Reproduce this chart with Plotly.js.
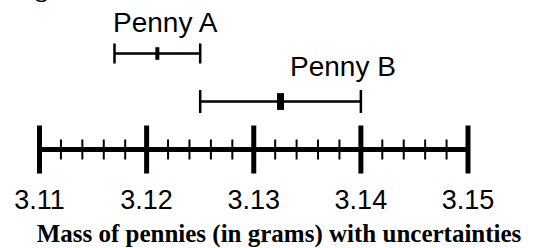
<!DOCTYPE html>
<html><head><meta charset="utf-8">
<script src="https://cdn.plot.ly/plotly-3.0.1.min.js"></script>
<style>html,body{margin:0;padding:0;background:#fff;overflow:hidden}#chart{width:558px;height:248px}</style>
</head><body><div id="chart"></div>
<script>
// ---- data ----
const pennyNames = ["Penny A", "Penny B"];
const pennyMass = [3.121, 3.1325];
const pennyUncertainty = [0.004, 0.0075];
const pennyRow = [2, 1];
const majorTicks = [3.11, 3.12, 3.13, 3.14, 3.15];
const majorTickLabels = ["3.11", "3.12", "3.13", "3.14", "3.15"];
const minorTicks = [3.112, 3.114, 3.116, 3.118, 3.122, 3.124, 3.126, 3.128,
                    3.132, 3.134, 3.136, 3.138, 3.142, 3.144, 3.146, 3.148];
const xTitle = "Mass of pennies (in grams) with uncertainties";
const figureLabel = "Figure 1";

// ---- styles ----
const pennyStyle = [
  {capHalf: 10, dotSize: 9, dotWidth: 4, labelDx: 8, labelDy: 31},
  {capHalf: 11.5, dotSize: 12, dotWidth: 7, labelDx: 62, labelDy: 35}
];
const sans = "Liberation Sans, Arial, sans-serif";
const serif = "Liberation Serif, Times New Roman, serif";

const traces = [];
// number line
traces.push({
  x: [majorTicks[0], majorTicks[majorTicks.length - 1]], y: [0, 0],
  mode: "lines", line: {color: "#000", width: 5}, hoverinfo: "skip", showlegend: false
});
// minor ticks
traces.push({
  x: minorTicks, y: minorTicks.map(() => 0), mode: "markers",
  marker: {size: 1, color: "rgba(0,0,0,0)"},
  error_y: {type: "constant", value: 10 / 48, width: 0, thickness: 2, color: "#000"},
  hoverinfo: "skip", showlegend: false
});
// major ticks
traces.push({
  x: majorTicks, y: majorTicks.map(() => 0), mode: "markers",
  marker: {size: 1, color: "rgba(0,0,0,0)"},
  error_y: {type: "constant", value: 24 / 48, width: 0, thickness: 5, color: "#000"},
  hoverinfo: "skip", showlegend: false
});
// pennies
const annotations = [];
pennyNames.forEach((name, i) => {
  const st = pennyStyle[i];
  traces.push({
    x: [pennyMass[i]], y: [pennyRow[i]], mode: "markers", name: name,
    marker: {symbol: "line-ns", size: st.dotSize, color: "#000", line: {color: "#000", width: st.dotWidth}},
    error_x: {type: "data", array: [pennyUncertainty[i]], symmetric: true, width: st.capHalf, thickness: 2.5, color: "#000"},
    showlegend: false
  });
  annotations.push({
    x: pennyMass[i], y: pennyRow[i], xref: "x", yref: "y", text: name, showarrow: false,
    xanchor: "center", yanchor: "middle", xshift: st.labelDx, yshift: st.labelDy,
    font: {family: sans, size: 28, color: "#000"}
  });
});
annotations.push({
  x: 0.02, y: 1, xref: "paper", yref: "paper", text: figureLabel, showarrow: false,
  xanchor: "left", yanchor: "bottom", yshift: -4,
  font: {family: serif, size: 25, color: "#000", weight: "bold"}
});

const layout = {
  width: 558, height: 248,
  margin: {l: 0, r: 0, t: 0, b: 72, pad: 0},
  paper_bgcolor: "#fff", plot_bgcolor: "#fff",
  xaxis: {
    range: [3.106313, 3.158401], tickvals: majorTicks, ticktext: majorTickLabels,
    ticks: "", showline: false, zeroline: false, showgrid: false, automargin: false,
    ticklabelstandoff: 5,
    tickfont: {family: sans, size: 27, color: "#000"},
    title: {text: xTitle, standoff: 17, font: {family: serif, size: 25, color: "#000", weight: "bold"}},
    fixedrange: true
  },
  yaxis: {range: [-0.552, 3.1146], visible: false, fixedrange: true},
  annotations: annotations,
  showlegend: false
};
Plotly.newPlot("chart", traces, layout, {displayModeBar: false, staticPlot: true});
</script>
</body></html>
